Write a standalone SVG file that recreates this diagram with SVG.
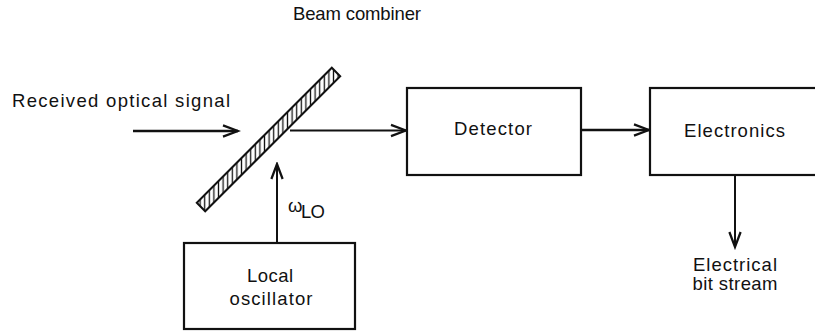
<svg xmlns="http://www.w3.org/2000/svg" width="815" height="336" viewBox="0 0 815 336">
<style>
  text { font-family: "Liberation Sans", Arial, sans-serif; font-size: 18.5px; fill: #111; }
  .box { fill: #fff; stroke: #111; stroke-width: 2.2; }
  .line { fill: none; stroke: #111; }
</style>
<defs>
  <marker id="chev" markerUnits="userSpaceOnUse" markerWidth="20" markerHeight="20" refX="0" refY="0" viewBox="-14 -8 16 16" orient="auto">
    <path d="M-12,-4.5 L0,0 L-12,4.5" fill="none" stroke="#111" stroke-width="1.8"/>
  </marker>
  <pattern id="hatch" patternUnits="userSpaceOnUse" width="4.6" height="10">
    <line x1="2.3" y1="0" x2="2.3" y2="10" stroke="#111" stroke-width="1.3"/>
  </pattern>
</defs>
<rect width="815" height="336" fill="#fff"/>

<g id="connectors">
  <line class="line" x1="133" y1="131" x2="238" y2="131" stroke-width="2.6" marker-end="url(#chev)"/>
  <line class="line" x1="290" y1="130.5" x2="406" y2="130.5" stroke-width="1.8" marker-end="url(#chev)"/>
  <line class="line" x1="581" y1="130" x2="649" y2="130" stroke-width="2.6" marker-end="url(#chev)"/>
  <line class="line" x1="277" y1="243" x2="277" y2="164" stroke-width="2" marker-end="url(#chev)"/>
  <line class="line" x1="735" y1="175" x2="735" y2="247" stroke-width="2" marker-end="url(#chev)"/>
</g>

<g id="beam-combiner">
  <polygon points="196.8,202.7 205.2,211.3 340.2,76.3 331.8,67.7" fill="url(#hatch)" stroke="#111" stroke-width="2"/>
  <text x="293" y="20" textLength="128" lengthAdjust="spacing">Beam combiner</text>
</g>

<g id="input-label">
  <text x="12" y="107" textLength="218" lengthAdjust="spacing">Received optical signal</text>
</g>

<g id="lo-label">
  <text x="288" y="212" font-size="18">ω</text>
  <text x="301" y="218" font-size="15.5" textLength="24" lengthAdjust="spacing">LO</text>
</g>

<g id="local-oscillator">
  <rect class="box" x="184" y="243" width="171" height="86"/>
  <text x="270" y="282" text-anchor="middle" textLength="46" lengthAdjust="spacing">Local</text>
  <text x="271" y="305" text-anchor="middle" textLength="83" lengthAdjust="spacing">oscillator</text>
</g>

<g id="detector">
  <rect class="box" x="407" y="88" width="174" height="87"/>
  <text x="454" y="135" textLength="78" lengthAdjust="spacing">Detector</text>
</g>

<g id="electronics">
  <rect class="box" x="650" y="88" width="180" height="87"/>
  <text x="684" y="137" textLength="101" lengthAdjust="spacing">Electronics</text>
</g>

<g id="output-label">
  <text x="735" y="271" text-anchor="middle" font-size="16.5" textLength="84" lengthAdjust="spacing">Electrical</text>
  <text x="735" y="290" text-anchor="middle" font-size="16.5" textLength="85" lengthAdjust="spacing">bit stream</text>
</g>
</svg>
